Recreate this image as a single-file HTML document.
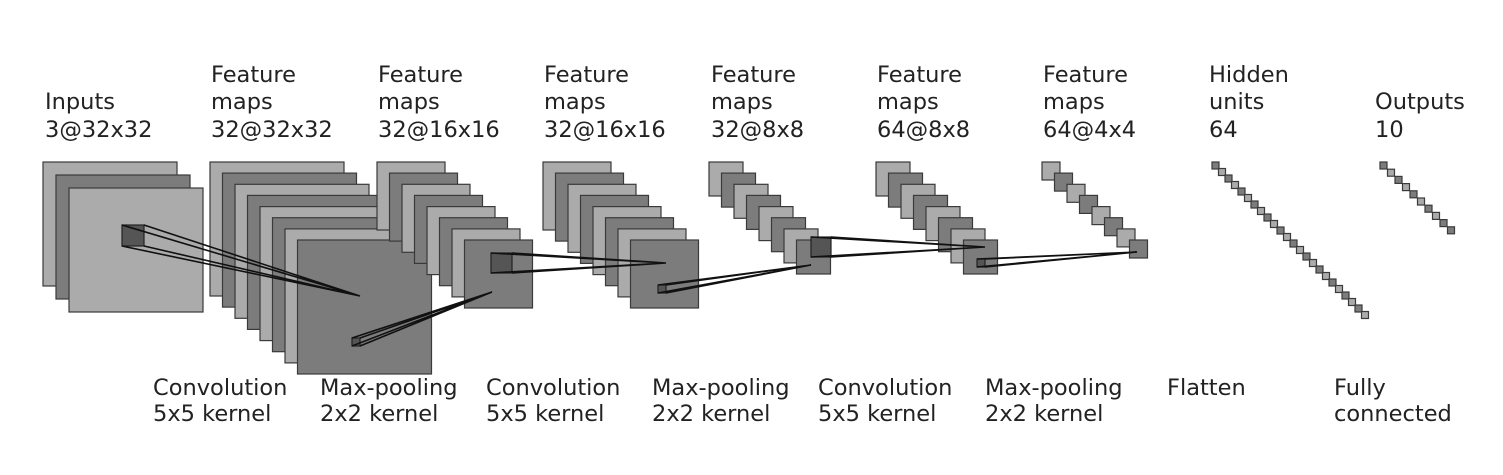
<!DOCTYPE html>
<html><head><meta charset="utf-8"><style>
html,body{margin:0;padding:0;background:#fff;}
svg{display:block}
text{font-family:"DejaVu Sans","Liberation Sans",sans-serif;font-size:22.5px;fill:#222;}
.l{fill:#ababab;stroke:#3a3a3a;stroke-width:1.2}
.d{fill:#7c7c7c;stroke:#3a3a3a;stroke-width:1.2}
.k{fill:#555;stroke:#222;stroke-width:1.2}
.ln{stroke:#111;stroke-width:1.6;fill:none}
</style></head><body>
<svg width="1503" height="475" viewBox="0 0 1503 475" xmlns="http://www.w3.org/2000/svg">
<rect class="l" x="43" y="162" width="134" height="124"/>
<rect class="d" x="56" y="175" width="134" height="124"/>
<rect class="l" x="69" y="188" width="134" height="124"/>
<rect class="l" x="210" y="162" width="134" height="134"/>
<rect class="d" x="222.5" y="173.1" width="134" height="134"/>
<rect class="l" x="235" y="184.3" width="134" height="134"/>
<rect class="d" x="247.5" y="195.4" width="134" height="134"/>
<rect class="l" x="260" y="206.6" width="134" height="134"/>
<rect class="d" x="272.5" y="217.7" width="134" height="134"/>
<rect class="l" x="285" y="228.9" width="134" height="134"/>
<rect class="d" x="297.5" y="240" width="134" height="134"/>
<rect class="l" x="377" y="162" width="68" height="68"/>
<rect class="d" x="389.5" y="173.1" width="68" height="68"/>
<rect class="l" x="402" y="184.3" width="68" height="68"/>
<rect class="d" x="414.5" y="195.4" width="68" height="68"/>
<rect class="l" x="427" y="206.6" width="68" height="68"/>
<rect class="d" x="439.5" y="217.7" width="68" height="68"/>
<rect class="l" x="452" y="228.9" width="68" height="68"/>
<rect class="d" x="464.5" y="240" width="68" height="68"/>
<rect class="l" x="543" y="162" width="68" height="68"/>
<rect class="d" x="555.5" y="173.1" width="68" height="68"/>
<rect class="l" x="568" y="184.3" width="68" height="68"/>
<rect class="d" x="580.5" y="195.4" width="68" height="68"/>
<rect class="l" x="593" y="206.6" width="68" height="68"/>
<rect class="d" x="605.5" y="217.7" width="68" height="68"/>
<rect class="l" x="618" y="228.9" width="68" height="68"/>
<rect class="d" x="630.5" y="240" width="68" height="68"/>
<rect class="l" x="709" y="162" width="34" height="34"/>
<rect class="d" x="721.5" y="173.1" width="34" height="34"/>
<rect class="l" x="734" y="184.3" width="34" height="34"/>
<rect class="d" x="746.5" y="195.4" width="34" height="34"/>
<rect class="l" x="759" y="206.6" width="34" height="34"/>
<rect class="d" x="771.5" y="217.7" width="34" height="34"/>
<rect class="l" x="784" y="228.9" width="34" height="34"/>
<rect class="d" x="796.5" y="240" width="34" height="34"/>
<rect class="l" x="876" y="162" width="34" height="34"/>
<rect class="d" x="888.5" y="173.1" width="34" height="34"/>
<rect class="l" x="901" y="184.3" width="34" height="34"/>
<rect class="d" x="913.5" y="195.4" width="34" height="34"/>
<rect class="l" x="926" y="206.6" width="34" height="34"/>
<rect class="d" x="938.5" y="217.7" width="34" height="34"/>
<rect class="l" x="951" y="228.9" width="34" height="34"/>
<rect class="d" x="963.5" y="240" width="34" height="34"/>
<rect class="l" x="1042" y="162" width="18" height="18"/>
<rect class="d" x="1054.5" y="173.1" width="18" height="18"/>
<rect class="l" x="1067" y="184.3" width="18" height="18"/>
<rect class="d" x="1079.5" y="195.4" width="18" height="18"/>
<rect class="l" x="1092" y="206.6" width="18" height="18"/>
<rect class="d" x="1104.5" y="217.7" width="18" height="18"/>
<rect class="l" x="1117" y="228.9" width="18" height="18"/>
<rect class="d" x="1129.5" y="240" width="18" height="18"/>
<g>
<rect class="d" x="1212" y="162" width="7" height="7"/><rect class="l" x="1218.5" y="168.5" width="7" height="7"/>
<rect class="d" x="1225" y="175" width="7" height="7"/><rect class="l" x="1231.5" y="181.5" width="7" height="7"/>
<rect class="d" x="1238" y="188" width="7" height="7"/><rect class="l" x="1244.5" y="194.5" width="7" height="7"/>
<rect class="d" x="1251" y="201" width="7" height="7"/><rect class="l" x="1257.5" y="207.5" width="7" height="7"/>
<rect class="d" x="1264" y="214" width="7" height="7"/><rect class="l" x="1270.5" y="220.5" width="7" height="7"/>
<rect class="d" x="1277" y="227" width="7" height="7"/><rect class="l" x="1283.5" y="233.5" width="7" height="7"/>
<rect class="d" x="1290" y="240" width="7" height="7"/><rect class="l" x="1296.5" y="246.5" width="7" height="7"/>
<rect class="d" x="1303" y="253" width="7" height="7"/><rect class="l" x="1309.5" y="259.5" width="7" height="7"/>
<rect class="d" x="1316" y="266" width="7" height="7"/><rect class="l" x="1322.5" y="272.5" width="7" height="7"/>
<rect class="d" x="1329" y="279" width="7" height="7"/><rect class="l" x="1335.5" y="285.5" width="7" height="7"/>
<rect class="d" x="1342" y="292" width="7" height="7"/><rect class="l" x="1348.5" y="298.5" width="7" height="7"/>
<rect class="d" x="1355" y="305" width="7" height="7"/><rect class="l" x="1361.5" y="311.5" width="7" height="7"/>
</g>
<g>
<rect class="d" x="1380" y="162" width="7" height="7"/><rect class="l" x="1387.5" y="169.2" width="7" height="7"/>
<rect class="d" x="1395" y="176.4" width="7" height="7"/><rect class="l" x="1402.5" y="183.6" width="7" height="7"/>
<rect class="d" x="1410" y="190.8" width="7" height="7"/><rect class="l" x="1417.5" y="198" width="7" height="7"/>
<rect class="d" x="1425" y="205.2" width="7" height="7"/><rect class="l" x="1432.5" y="212.4" width="7" height="7"/>
<rect class="d" x="1440" y="219.6" width="7" height="7"/><rect class="d" x="1447.5" y="226.8" width="7" height="7"/>
</g>
<rect class="k" x="122" y="225" width="22" height="21"/>
<path class="ln" d="M122 225 L360 296 M144 225 L360 296 M144 246 L360 296 M122 246 L360 296"/>
<rect class="k" x="352" y="338" width="8" height="8"/>
<path class="ln" d="M352 338 L492 292 M360 338 L492 292 M360 346 L492 292 M352 346 L492 292"/>
<rect class="k" x="491" y="253" width="21" height="20"/>
<path class="ln" d="M491 253 L666 263 M512 253 L666 263 M512 273 L666 263 M491 273 L666 263"/>
<rect class="k" x="658" y="285" width="8" height="8"/>
<path class="ln" d="M658 285 L811 265 M666 285 L811 265 M666 293 L811 265 M658 293 L811 265"/>
<rect class="k" x="811" y="237" width="20" height="20"/>
<path class="ln" d="M811 237 L985 247 M831 237 L985 247 M831 257 L985 247 M811 257 L985 247"/>
<rect class="k" x="977" y="259" width="8" height="8"/>
<path class="ln" d="M977 259 L1137 252 M985 259 L1137 252 M985 267 L1137 252 M977 267 L1137 252"/>
<text x="45" y="109">Inputs</text><text x="45" y="137">3@32x32</text>
<text x="211" y="82">Feature</text><text x="211" y="109">maps</text><text x="211" y="137">32@32x32</text>
<text x="378" y="82">Feature</text><text x="378" y="109">maps</text><text x="378" y="137">32@16x16</text>
<text x="544" y="82">Feature</text><text x="544" y="109">maps</text><text x="544" y="137">32@16x16</text>
<text x="711" y="82">Feature</text><text x="711" y="109">maps</text><text x="711" y="137">32@8x8</text>
<text x="877" y="82">Feature</text><text x="877" y="109">maps</text><text x="877" y="137">64@8x8</text>
<text x="1043" y="82">Feature</text><text x="1043" y="109">maps</text><text x="1043" y="137">64@4x4</text>
<text x="1209" y="82">Hidden</text><text x="1209" y="109">units</text><text x="1209" y="137">64</text>
<text x="1375" y="109">Outputs</text><text x="1375" y="137">10</text>
<text x="153" y="395">Convolution</text><text x="153" y="421">5x5 kernel</text>
<text x="320" y="395">Max-pooling</text><text x="320" y="421">2x2 kernel</text>
<text x="486" y="395">Convolution</text><text x="486" y="421">5x5 kernel</text>
<text x="652" y="395">Max-pooling</text><text x="652" y="421">2x2 kernel</text>
<text x="818" y="395">Convolution</text><text x="818" y="421">5x5 kernel</text>
<text x="985" y="395">Max-pooling</text><text x="985" y="421">2x2 kernel</text>
<text x="1167" y="395">Flatten</text>
<text x="1334" y="395">Fully</text><text x="1334" y="421">connected</text>
</svg>
</body></html>
